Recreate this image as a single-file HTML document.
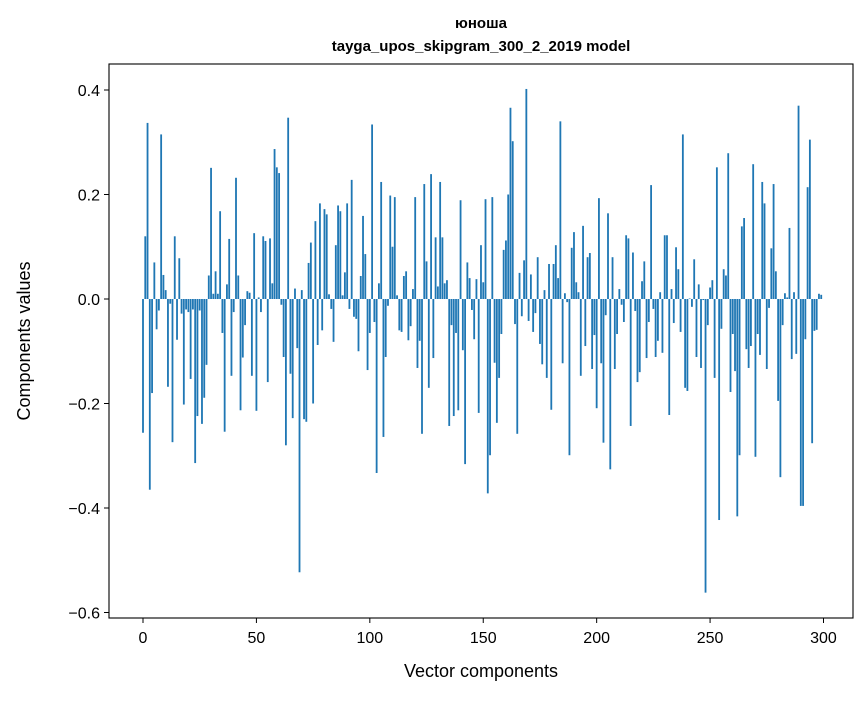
<!DOCTYPE html>
<html><head><meta charset="utf-8"><style>
body{margin:0;background:#fff;width:867px;height:696px;overflow:hidden}
svg text{font-family:"Liberation Sans","DejaVu Sans",sans-serif;fill:#000}
</style></head><body>
<svg id="chart" width="867" height="696" xmlns="http://www.w3.org/2000/svg">
<text x="481" y="28" font-size="15" font-weight="bold" text-anchor="middle">юноша</text>
<text x="481" y="51" font-size="15" font-weight="bold" text-anchor="middle">tayga_upos_skipgram_300_2_2019 model</text>
<g id="bars"></g>
<rect x="109" y="64" width="744" height="554" fill="none" stroke="#000" stroke-width="1.1"/>
<g id="xt"></g>
<g id="yt"></g>
<text x="481" y="677" font-size="18" text-anchor="middle">Vector components</text>
<text transform="translate(30,341) rotate(-90)" font-size="18" text-anchor="middle">Components values</text>
</svg>
<script>
const values=[-0.256,0.12,0.337,-0.365,-0.18,0.07,-0.058,-0.022,0.315,0.046,0.017,-0.168,-0.009,-0.274,0.12,-0.078,0.078,-0.028,-0.202,-0.02,-0.025,-0.153,-0.02,-0.314,-0.224,-0.022,-0.239,-0.189,-0.126,0.045,0.251,0.01,0.053,0.01,0.168,-0.065,-0.254,0.028,0.115,-0.147,-0.025,0.232,0.045,-0.213,-0.112,-0.05,0.015,0.012,-0.147,0.126,-0.214,
0.003,-0.025,0.12,0.111,-0.159,0.116,0.03,0.287,0.252,0.241,-0.011,-0.111,-0.28,0.347,-0.143,-0.228,0.02,-0.094,-0.523,0.017,-0.23,-0.235,0.069,0.108,-0.2,0.149,-0.088,0.183,-0.06,0.172,0.162,0.009,-0.019,-0.082,0.103,0.179,0.168,0.007,0.051,0.183,-0.019,0.228,-0.034,-0.038,-0.1,0.044,0.159,0.086,-0.136,-0.065,0.334,
-0.044,-0.333,0.03,0.224,-0.264,-0.111,-0.013,0.198,0.1,0.195,0.007,-0.06,-0.063,0.044,0.053,-0.079,-0.052,0.019,0.195,-0.132,-0.08,-0.258,0.22,0.072,-0.17,0.239,-0.113,0.118,0.024,0.224,0.118,0.03,0.036,-0.243,-0.05,-0.224,-0.065,-0.213,0.189,-0.098,-0.316,0.07,0.04,-0.021,-0.077,0.038,-0.218,0.103,0.032,0.191,-0.372,
-0.299,0.195,-0.122,-0.237,-0.151,-0.067,0.094,0.112,0.2,0.366,0.302,-0.048,-0.258,0.05,-0.033,0.074,0.402,-0.042,0.047,-0.063,-0.027,0.08,-0.086,-0.125,0.017,-0.151,0.067,-0.212,0.067,0.103,0.04,0.34,-0.123,0.011,-0.006,-0.299,0.098,0.128,0.032,0.013,-0.147,0.14,-0.09,0.08,0.088,-0.134,-0.069,-0.209,0.193,
-0.123,-0.275,-0.031,0.164,-0.326,0.08,-0.134,-0.067,0.019,-0.011,-0.044,0.122,0.116,-0.243,0.089,-0.023,-0.159,-0.14,0.034,0.072,-0.113,-0.044,0.218,-0.019,-0.111,-0.08,0.013,-0.103,0.122,0.122,-0.222,0.019,-0.046,0.099,0.057,-0.063,0.315,-0.17,-0.176,0.001,-0.015,0.076,-0.111,0.028,-0.132,-0.002,-0.562,-0.05,0.022,0.036,-0.151,
0.252,-0.423,-0.057,0.057,0.045,0.279,-0.178,-0.067,-0.138,-0.416,-0.299,0.139,0.155,-0.096,-0.132,-0.09,0.258,-0.302,-0.067,-0.107,0.224,0.183,-0.134,-0.017,0.097,0.22,0.053,-0.195,-0.341,-0.05,0.011,0.003,0.136,-0.115,0.013,-0.105,0.37,-0.396,-0.396,-0.077,0.214,0.305,-0.276,-0.061,-0.059,0.01,0.008];
const xTicks=[0,50,100,150,200,250,300];
const yTicks=[-0.6,-0.4,-0.2,0.0,0.2,0.4];
const NS="http://www.w3.org/2000/svg";
function sx(v){return 143+v*2.2683;}
function sy(v){return 299-v*522.5;}
const bars=document.getElementById('bars');
values.forEach((v,i)=>{
  const r=document.createElementNS(NS,'rect');
  const x0=sx(i-0.4),x1=sx(i+0.4);
  r.setAttribute('x',x0);r.setAttribute('width',x1-x0);
  r.setAttribute('y',Math.min(sy(v),sy(0)));r.setAttribute('height',Math.abs(sy(v)-sy(0)));
  r.setAttribute('fill','#1f77b4');
  
  
  bars.appendChild(r);
});
const xt=document.getElementById('xt');
xTicks.forEach(t=>{
  const g=document.createElementNS(NS,'g');
  
  
  g.innerHTML=`<line x1="${sx(t)}" x2="${sx(t)}" y1="618" y2="623" stroke="#000"/><text x="${sx(t)}" y="643" font-size="16" text-anchor="middle">${t}</text>`;
  xt.appendChild(g);
});
const yt=document.getElementById('yt');
yTicks.forEach(t=>{
  const g=document.createElementNS(NS,'g');
  
  
  const lbl=(t<0?'\u2212':'')+Math.abs(t).toFixed(1);
  g.innerHTML=`<line x1="104" x2="109" y1="${sy(t)}" y2="${sy(t)}" stroke="#000"/><text x="100" y="${sy(t)+6}" font-size="16" text-anchor="end">${lbl}</text>`;
  yt.appendChild(g);
});
</script>
</body></html>
